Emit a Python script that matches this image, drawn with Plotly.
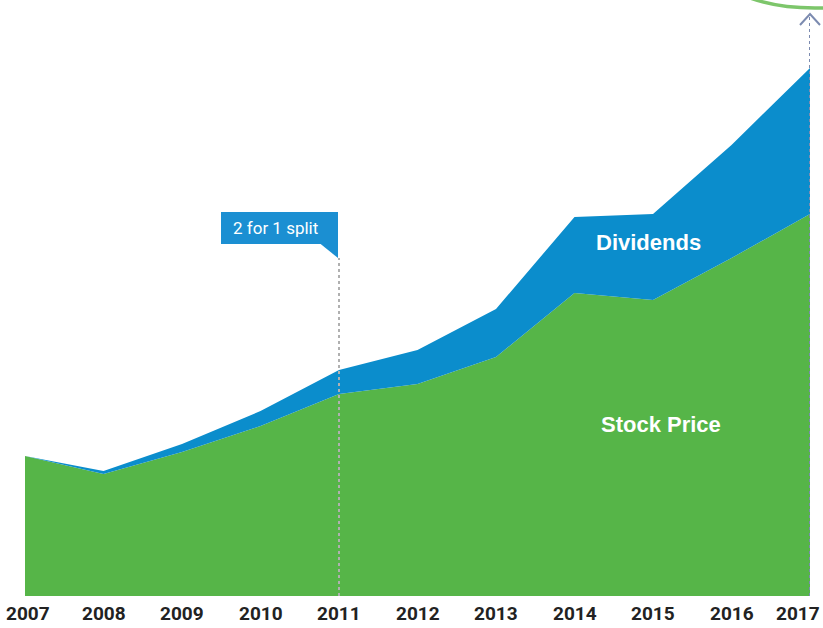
import plotly.graph_objects as go

years = [2007, 2008, 2009, 2010, 2011, 2012, 2013, 2014, 2015, 2016, 2017]
stock_price = [140, 122, 144, 170, 202, 212, 239, 303, 296, 338, 382]
dividends = [0, 3, 8, 15, 24, 34, 48, 76, 86, 113, 146]

GREEN = "#56b548"
BLUE = "#0b8dcc"

# plot area in pixels: x 25..810, y 0..596
L, R, T, B = 25, 810, 0, 596


def px(x):
    return (x - L) / (R - L)


def py(y):
    return 1 - (y - T) / (B - T)


fig = go.Figure()
fig.add_trace(go.Scatter(x=years, y=stock_price, stackgroup="one", mode="none",
                         fillcolor=GREEN, name="Stock Price", hoverinfo="skip"))
fig.add_trace(go.Scatter(x=years, y=dividends, stackgroup="one", mode="none",
                         fillcolor=BLUE, name="Dividends", hoverinfo="skip"))

shapes = []
# split marker
shapes.append(dict(type="line", xref="x", yref="y", x0=2011, x1=2011, y0=0, y1=338,
                   line=dict(color="#b0b0b0", width=2, dash="dot"), layer="above"))
# 2017 arrow
shapes.append(dict(type="line", xref="x", yref="y", x0=2017, x1=2017, y0=0, y1=581,
                   line=dict(color="#7c8bb0", width=2, dash="dot"), layer="above"))
shapes.append(dict(type="path", xref="paper", yref="paper",
                   path=f"M {px(800)} {py(25)} L {px(810)} {py(14)} L {px(820)} {py(25)}",
                   line=dict(color="#7c8bb0", width=2), layer="above"))
# callout box
shapes.append(dict(type="rect", xref="paper", yref="paper",
                   x0=px(221), x1=px(338), y0=py(244), y1=py(212),
                   fillcolor="#1b8fd2", line=dict(width=0), layer="above"))
shapes.append(dict(type="path", xref="paper", yref="paper",
                   path=f"M {px(320)} {py(243.5)} L {px(338)} {py(243.5)} L {px(338)} {py(258)} Z",
                   fillcolor="#1b8fd2", line=dict(width=0), layer="above"))
# green arc at top right
shapes.append(dict(type="circle", xref="paper", yref="paper",
                   x0=px(715), x1=px(915), y0=py(8), y1=py(-76),
                   line=dict(color="#7dc66b", width=3.5), layer="above"))

annotations = [
    dict(text="2 for 1 split", x=px(231), y=py(228), xref="paper", yref="paper",
         xanchor="left", yanchor="middle", showarrow=False,
         font=dict(family="Roboto", size=17, color="white")),
    dict(text="<b>Dividends</b>", x=px(648), y=py(243), xref="paper", yref="paper",
         xanchor="center", yanchor="middle", showarrow=False,
         font=dict(family="Liberation Sans", size=22, color="white")),
    dict(text="<b>Stock Price</b>", x=px(661), y=py(424), xref="paper", yref="paper",
         xanchor="center", yanchor="middle", showarrow=False,
         font=dict(family="Liberation Sans", size=22, color="white")),
]

# year labels under the axis; the last one is kept inside the page edge
for yr in years:
    last = yr == years[-1]
    annotations.append(dict(
        text=str(yr), x=yr, y=py(627), xref="x", yref="paper",
        xanchor="right" if last else "center", yanchor="bottom",
        xshift=12 if last else (3 if yr == years[0] else 0),
        showarrow=False,
        font=dict(family="Roboto", size=19, color="#222222", weight="bold")))

fig.update_layout(
    width=823, height=628,
    margin=dict(l=L, r=823 - R, t=T, b=628 - B, autoexpand=False),
    plot_bgcolor="white", paper_bgcolor="white",
    showlegend=False,
    shapes=shapes,
    annotations=annotations,
    xaxis=dict(range=[2007, 2017], tickvals=years, showticklabels=False,
               showgrid=False, zeroline=False, showline=False, ticks="",
               automargin=False),
    yaxis=dict(range=[0, 596], visible=False, showgrid=False, automargin=False),
)

# page body has a default 8px margin; drop it so the figure sits at 0,0
fig.write_html("out.html", config={"displayModeBar": False},
               post_script="document.body.style.margin='0';")
